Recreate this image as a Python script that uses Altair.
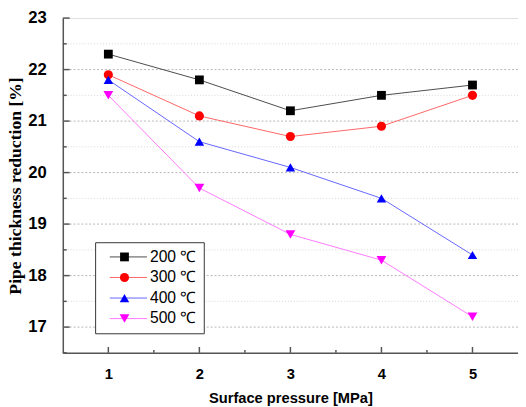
import altair as alt
import pandas as pd

pressure = [1, 2, 3, 4, 5]
series = ["200 ℃", "300 ℃", "400 ℃", "500 ℃"]
v200 = [22.3, 21.8, 21.2, 21.5, 21.7]
v300 = [21.9, 21.1, 20.7, 20.9, 21.5]
v400 = [21.8, 20.6, 20.1, 19.5, 18.4]
v500 = [21.5, 19.7, 18.8, 18.3, 17.2]

marker_colors = ["#000000", "#ff0000", "#0000ff", "#ff00ff"]
line_colors = ["#4a4a4a", "#ff6464", "#6464ff", "#ff78ff"]
shapes = ["square", "circle", "triangle-up", "triangle-down"]
sizes = [81, 100, 150, 150]

y_major = [17, 18, 19, 20, 21, 22, 23]
y_minor = [16.5, 17.5, 18.5, 19.5, 20.5, 21.5, 22.5]
grid_major = [17, 18, 19, 20, 21, 22]
grid_minor = [17.5, 18.5, 19.5, 20.5, 21.5, 22.5]
x_major = [1, 2, 3, 4, 5]
x_minor = [1.5, 2.5, 3.5, 4.5]

series_mk = [s + " " for s in series]  # separate domain for the marker legend

rows = []
for s, sm, vals in zip(series, series_mk, [v200, v300, v400, v500]):
    for p, v in zip(pressure, vals):
        rows.append({"P": p, "R": v, "T": s, "T2": sm})
df = pd.DataFrame(rows)

W, H = 465, 342
xs = alt.Scale(domain=[0.5, 5.5], nice=False, zero=False)
ys = alt.Scale(domain=[16.5, 23], nice=False, zero=False)

AX = "#555555"

xaxis = alt.Axis(
    values=x_major, ticks=False, grid=False, domainColor=AX, domainWidth=1.5,
    labelFont="Liberation Sans", labelFontWeight="bold", labelFontSize=15,
    labelColor="black", labelPadding=14,
    title="Surface pressure [MPa]", titleFont="Liberation Sans",
    titleFontWeight="bold", titleFontSize=15, titleColor="black", titlePadding=10)
yaxis = alt.Axis(
    values=y_major, ticks=False, grid=False, domainColor=AX, domainWidth=1.5,
    labelFont="Liberation Sans", labelFontWeight="bold", labelFontSize=17,
    labelColor="black", labelPadding=17,
    title="Pipe thickness reduction [%]", titleFont="Liberation Serif",
    titleFontWeight="bold", titleFontSize=18, titleColor="black", titlePadding=3)

gmaj = alt.Chart(pd.DataFrame({"R": grid_major})).mark_rule(
    color="#b4b4b4", strokeDash=[2, 2], strokeWidth=1
).encode(y=alt.Y("R:Q", scale=ys, axis=yaxis))
gmin = alt.Chart(pd.DataFrame({"R": grid_minor})).mark_rule(
    color="#d6d6d6", strokeDash=[1, 2], strokeWidth=1
).encode(y=alt.Y("R:Q", scale=ys, axis=yaxis))

ytmaj = alt.Chart(pd.DataFrame({"R": y_major})).mark_rule(color=AX, strokeWidth=1.5).encode(
    y=alt.Y("R:Q", scale=ys, axis=yaxis), x=alt.value(0), x2=alt.value(7))
ytmin = alt.Chart(pd.DataFrame({"R": y_minor})).mark_rule(color=AX, strokeWidth=1.5).encode(
    y=alt.Y("R:Q", scale=ys, axis=yaxis), x=alt.value(0), x2=alt.value(4))
xtmaj = alt.Chart(pd.DataFrame({"P": x_major})).mark_rule(color=AX, strokeWidth=1.5).encode(
    x=alt.X("P:Q", scale=xs, axis=xaxis), y=alt.value(H), y2=alt.value(H - 6))
xtmin = alt.Chart(pd.DataFrame({"P": x_minor})).mark_rule(color=AX, strokeWidth=1.5).encode(
    x=alt.X("P:Q", scale=xs, axis=xaxis), y=alt.value(H), y2=alt.value(H - 3))

common_leg = dict(
    orient="none", legendY=229, title=None, padding=7,
    labelFont="Liberation Sans", labelFontSize=16, rowPadding=5,
)

lines = alt.Chart(df).mark_line(strokeWidth=1).encode(
    x=alt.X("P:Q", scale=xs, axis=xaxis),
    y=alt.Y("R:Q", scale=ys, axis=yaxis),
    color=alt.Color("T:N", scale=alt.Scale(domain=series, range=line_colors),
                    legend=alt.Legend(symbolType="M-3.8,0L3.8,0", symbolSize=100,
                                      symbolStrokeWidth=1, strokeColor="#333333",
                                      fillColor="white", labelColor="black",
                                      legendX=33, symbolOffset=19, labelOffset=14,
                                      **common_leg)),
    detail="T:N",
)

points = alt.Chart(df).mark_point(filled=True, opacity=1, strokeWidth=0).encode(
    x=alt.X("P:Q", scale=xs, axis=xaxis),
    y=alt.Y("R:Q", scale=ys, axis=yaxis),
    fill=alt.Fill("T2:N", scale=alt.Scale(domain=series_mk, range=marker_colors),
                  legend=alt.Legend(labelOpacity=0, strokeColor="transparent",
                                    symbolOpacity=1, symbolStrokeWidth=0,
                                    legendX=28, symbolOffset=20, labelOffset=18,
                                    **common_leg)),
    shape=alt.Shape("T2:N", scale=alt.Scale(domain=series_mk, range=shapes)),
    size=alt.Size("T2:N", scale=alt.Scale(domain=series_mk, range=sizes)),
)

chart = alt.layer(gmin, gmaj, lines, points, ytmaj, ytmin, xtmaj, xtmin).properties(
    width=W, height=H,
    autosize=alt.AutoSizeParams(type="none"),
    padding={"left": 56, "top": 6, "right": 0, "bottom": 50},
).configure_view(stroke=None).configure(background="white")

chart.save("out.html", embed_options={"renderer": "svg", "actions": False})
